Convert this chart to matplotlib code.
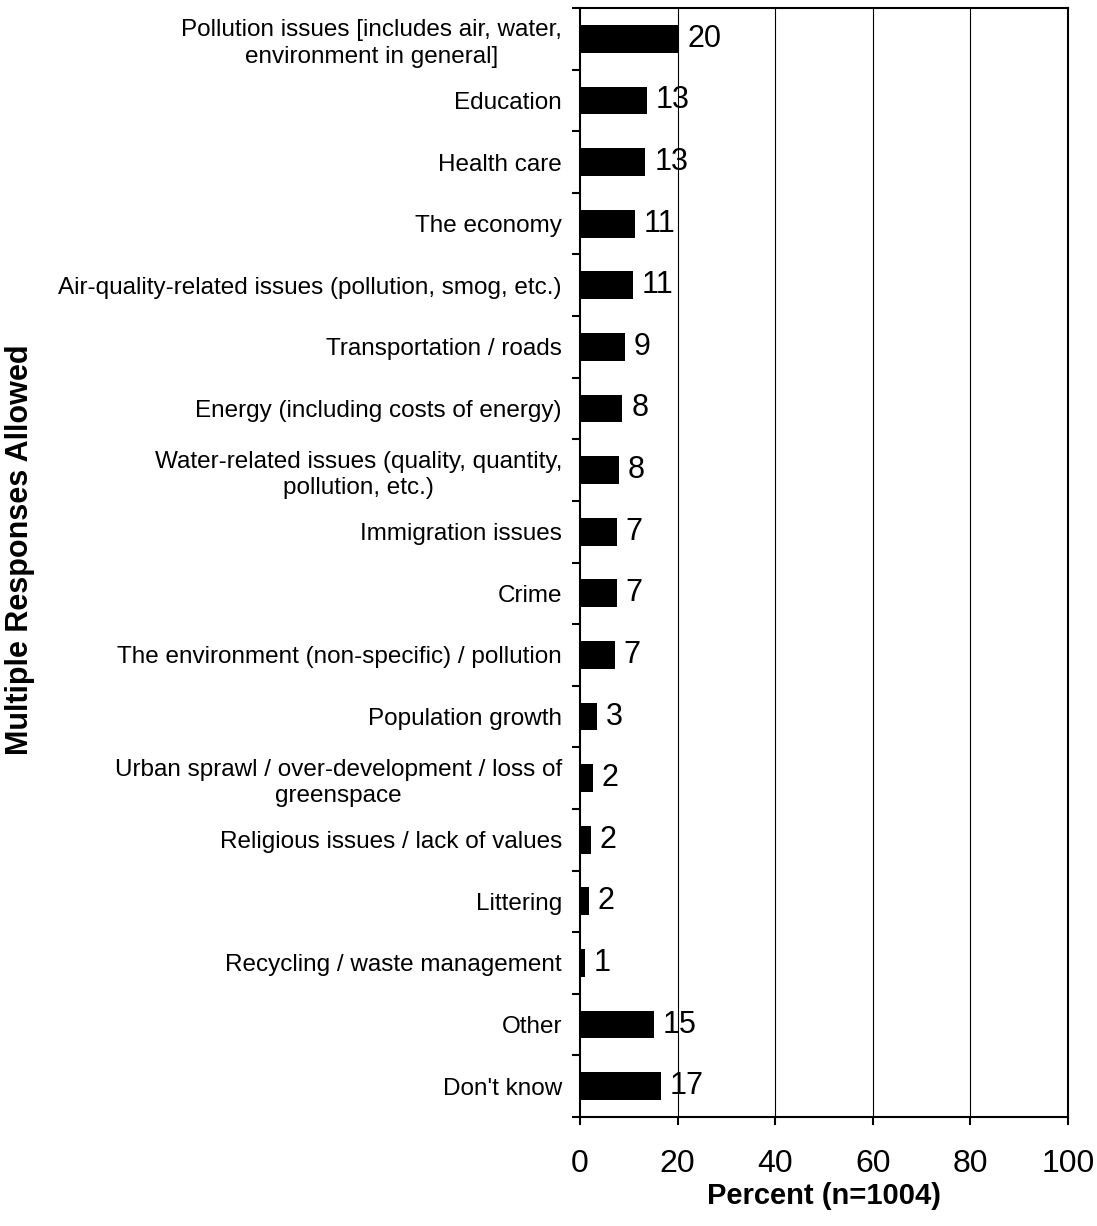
import matplotlib
matplotlib.use('agg')
import matplotlib.pyplot as plt
import numpy as np

plt.rcParams['font.family'] = ['Liberation Sans', 'DejaVu Sans']

# categories top to bottom
categories = [
    'Pollution issues [includes air, water,\nenvironment in general]',
    'Education',
    'Health care',
    'The economy',
    'Air-quality-related issues (pollution, smog, etc.)',
    'Transportation / roads',
    'Energy (including costs of energy)',
    'Water-related issues (quality, quantity,\npollution, etc.)',
    'Immigration issues',
    'Crime',
    'The environment (non-specific) / pollution',
    'Population growth',
    'Urban sprawl / over-development / loss of\ngreenspace',
    'Religious issues / lack of values',
    'Littering',
    'Recycling / waste management',
    'Other',
    "Don't know",
]
percent = [20.2, 13.7, 13.4, 11.2, 10.8, 9.2, 8.7, 8.0, 7.6, 7.6, 7.1,
           3.4, 2.6, 2.2, 1.8, 1.0, 15.2, 16.5]
value_labels = ['20', '13', '13', '11', '11', '9', '8', '8', '7', '7', '7',
                '3', '2', '2', '2', '1', '15', '17']
x_ticks = [0, 20, 40, 60, 80, 100]

fig = plt.figure(figsize=(10.97, 12.26), dpi=100)
ax = fig.add_axes([580/1097, 1 - 1117/1226, 488/1097, 1109/1226])

n = len(categories)
ypos = np.arange(n)
ax.barh(ypos, percent, height=0.45, color='black', zorder=3)

for y, v, lab in zip(ypos, percent, value_labels):
    ax.text(v + 1.8, y, lab, va='center', ha='left', fontsize=22, zorder=4)

ax.set_xlim(0, 100)
ax.set_ylim(n - 0.5, -0.5)

# vertical gridlines
for g in x_ticks[1:-1]:
    ax.axvline(g, color='black', lw=0.8, zorder=1)

ax.set_xticks(x_ticks)
ax.set_xticklabels([str(t) for t in x_ticks], fontsize=23)
ax.tick_params(axis='x', length=6, width=1.5, pad=17, direction='out')

ax.set_yticks(ypos)
ax.set_yticklabels(categories, fontsize=17.5, linespacing=1.25)
for t in ax.get_yticklabels():
    t.set_multialignment('center')
ax.tick_params(axis='y', which='major', length=0, pad=13)
ax.set_yticks(np.arange(n + 1) - 0.5, minor=True)
ax.tick_params(axis='y', which='minor', length=6, width=1.5, direction='out')

for s in ax.spines.values():
    s.set_linewidth(1.5)

ax.set_xlabel('Percent (n=1004)', fontsize=21, fontweight='bold', labelpad=2)
fig.text(20/1097, 1 - 550/1226, 'Multiple Responses Allowed', rotation=90,
         ha='center', va='center', fontsize=22, fontweight='bold')

fig.savefig('out.png', dpi=100)
